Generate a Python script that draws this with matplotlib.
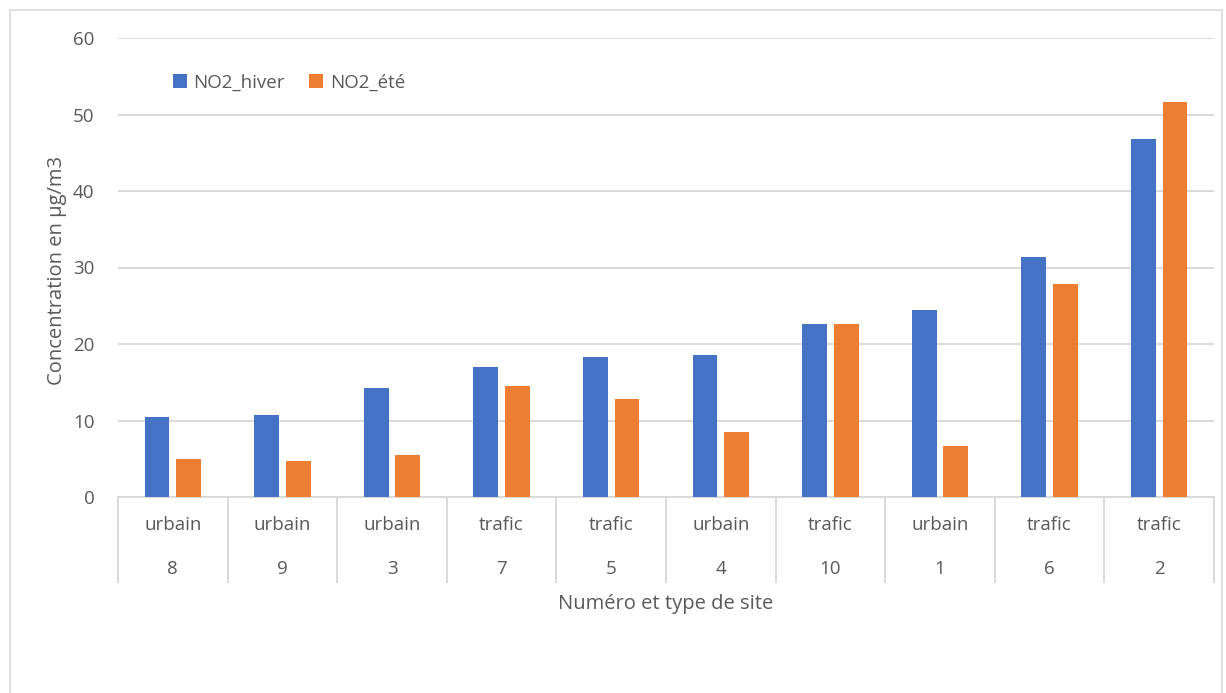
import matplotlib
matplotlib.use("Agg")
import matplotlib.pyplot as plt
import matplotlib.transforms as mtransforms
from matplotlib.patches import Rectangle
import numpy as np

site_numbers = ["8", "9", "3", "7", "5", "4", "10", "1", "6", "2"]
site_types = ["urbain", "urbain", "urbain", "trafic", "trafic", "urbain", "trafic", "urbain", "trafic", "trafic"]
no2_hiver = [10.5, 10.7, 14.2, 17.0, 18.3, 18.6, 22.6, 24.4, 31.4, 46.8]
no2_ete = [5.0, 4.7, 5.5, 14.5, 12.8, 8.5, 22.6, 6.7, 27.8, 51.6]
series_names = ["NO2_hiver", "NO2_été"]
y_ticks = [0, 10, 20, 30, 40, 50, 60]

plt.rcParams['font.family'] = ['Open Sans', 'DejaVu Sans']
txt = '#595959'
grid = '#D9D9D9'

W, H = 1226, 693
fig = plt.figure(figsize=(W / 100, H / 100), dpi=100)
fig.patch.set_facecolor('white')
fig.patches.append(Rectangle((10 / W, -0.01), (1222 - 10) / W, 1 - 10 / H + 0.01,
                             transform=fig.transFigure, fill=False, edgecolor=grid, linewidth=1.2))

ax = fig.add_axes([118 / W, 1 - 497 / H, (1214 - 118) / W, (497 - 38) / H])
x = np.arange(len(site_numbers))
bw = 0.225
off = 0.144
ax.bar(x - off, no2_hiver, bw, color='#4472C4', label=series_names[0], zorder=3)
ax.bar(x + off, no2_ete, bw, color='#ED7D31', label=series_names[1], zorder=3)

ax.set_xlim(-0.5, len(x) - 0.5)
ax.set_ylim(0, 60)
ax.set_yticks(y_ticks)
ax.set_yticklabels([str(t) for t in y_ticks], fontsize=13.5, color=txt)
ax.tick_params(axis='y', length=0, pad=17)
ax.set_xticks([])
ax.yaxis.grid(True, color=grid, linewidth=1.4, zorder=0)
for s in ['top', 'right', 'left']:
    ax.spines[s].set_visible(False)
ax.spines['bottom'].set_color(grid)
ax.spines['bottom'].set_linewidth(1.4)

trans = mtransforms.blended_transform_factory(ax.transData, ax.transAxes)
for i in range(len(x)):
    ax.text(i, -0.061, site_types[i], transform=trans, ha='center', va='center', fontsize=13.5, color=txt)
    ax.text(i, -0.157, site_numbers[i], transform=trans, ha='center', va='center', fontsize=13.5, color=txt)
for b in np.arange(-0.5, len(x), 1.0):
    ax.plot([b, b], [0, -0.185], transform=trans, color=grid, linewidth=1.4, clip_on=False)

ax.text(0.5, -0.233, "Numéro et type de site", transform=ax.transAxes, ha='center', va='center',
        fontsize=14.5, color=txt)
fig.text(57 / W, 1 - 270 / H, "Concentration en µg/m3", rotation=90, ha='center', va='center',
         fontsize=14.5, color=txt)

leg = ax.legend(loc='upper left', bbox_to_anchor=(165 / W, 1 - 66 / H), bbox_transform=fig.transFigure,
                ncol=2, frameon=False, fontsize=13.5, handlelength=0.75, handleheight=0.75,
                handletextpad=0.35, columnspacing=1.3, borderaxespad=0)
for t in leg.get_texts():
    t.set_color(txt)

fig.savefig("out.png", dpi=100)
